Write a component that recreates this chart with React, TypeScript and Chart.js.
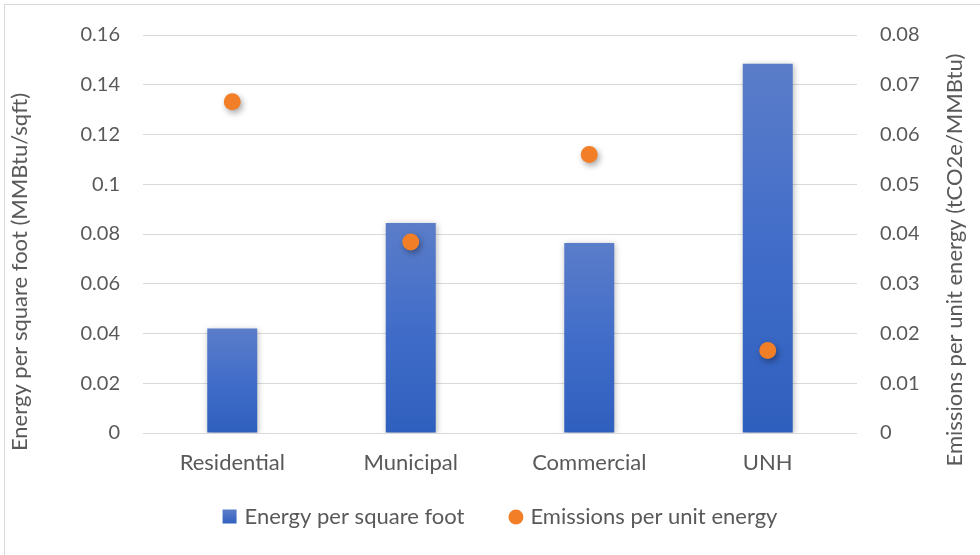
import React, { useEffect, useRef } from "react";
import { Chart, registerables } from "chart.js";

Chart.register(...registerables);

const categories = ["Residential", "Municipal", "Commercial", "UNH"];
const energyPerSqft = [0.042, 0.0844, 0.0764, 0.1484];
const emissionsPerEnergy = [0.0666, 0.0384, 0.056, 0.0166];
const leftTickLabels = ["0", "0.02", "0.04", "0.06", "0.08", "0.1", "0.12", "0.14", "0.16"];
const rightTickLabels = ["0", "0.01", "0.02", "0.03", "0.04", "0.05", "0.06", "0.07", "0.08"];
const leftTitle = "Energy per square foot (MMBtu/sqft)";
const rightTitle = "Emissions per unit energy (tCO2e/MMBtu)";
const seriesNames = ["Energy per square foot", "Emissions per unit energy"];

const FONT = "Lato, 'Open Sans', sans-serif";
const TEXT = "#595959";
const GRID = "#D9D9D9";
const BLUE_TOP = "#5B7DC9";
const BLUE_BOT = "#2F5FBE";
const ORANGE = "#F27E28";

const shadowPlugin = {
  id: "shadows",
  beforeDatasetDraw(chart: any, args: any) {
    const ctx = chart.ctx;
    ctx.save();
    if (args.index === 0) {
      ctx.shadowColor = "rgba(0,0,0,0.28)";
      ctx.shadowBlur = 6;
      ctx.shadowOffsetX = 1;
      ctx.shadowOffsetY = 1;
    } else {
      ctx.shadowColor = "rgba(0,0,0,0.35)";
      ctx.shadowBlur = 6;
      ctx.shadowOffsetX = 2;
      ctx.shadowOffsetY = 3;
    }
  },
  afterDatasetDraw(chart: any) {
    chart.ctx.restore();
  },
};

// Axis titles read bottom-to-top on both sides (Excel style)
const axisTitlePlugin = {
  id: "axisTitles",
  afterDraw(chart: any) {
    const { ctx, chartArea, width } = chart;
    const mid = (chartArea.top + chartArea.bottom) / 2;
    ctx.save();
    ctx.fillStyle = TEXT;
    ctx.textAlign = "center";
    ctx.textBaseline = "middle";
    ctx.font = `22px ${FONT}`;
    ctx.translate(20, mid + 38);
    ctx.rotate(-Math.PI / 2);
    ctx.fillText(leftTitle, 0, 0);
    ctx.restore();
    ctx.save();
    ctx.fillStyle = TEXT;
    ctx.textAlign = "center";
    ctx.textBaseline = "middle";
    ctx.font = `22px ${FONT}`;
    ctx.translate(width - 25, mid + 26);
    ctx.rotate(-Math.PI / 2);
    ctx.fillText(rightTitle, 0, 0);
    ctx.restore();
  },
};

// Excel-like legend: square for bars, circle for points, centred under the plot
const legendPlugin = {
  id: "excelLegend",
  afterDraw(chart: any) {
    const { ctx, chartArea } = chart;
    const ds = chart.data.datasets;
    const marker = 15;
    const textGap = 7;
    const itemGap = 44;
    const y = 517;
    ctx.save();
    ctx.font = `22px ${FONT}`;
    ctx.textBaseline = "middle";
    ctx.textAlign = "left";
    const widths = ds.map((d: any) => ctx.measureText(d.label).width);
    const total =
      widths.reduce((a: number, b: number) => a + b, 0) +
      ds.length * (marker + textGap) +
      (ds.length - 1) * itemGap;
    let x = (chartArea.left + chartArea.right) / 2 - total / 2;
    ds.forEach((d: any, i: number) => {
      if (i === 0) {
        const g = ctx.createLinearGradient(0, y - marker / 2, 0, y + marker / 2);
        g.addColorStop(0, BLUE_TOP);
        g.addColorStop(1, BLUE_BOT);
        ctx.fillStyle = g;
        ctx.fillRect(x, y - marker / 2, marker - 1, marker - 1);
      } else {
        ctx.fillStyle = ORANGE;
        ctx.beginPath();
        ctx.arc(x + marker / 2, y, marker / 2, 0, Math.PI * 2);
        ctx.fill();
      }
      x += marker + textGap;
      ctx.fillStyle = TEXT;
      ctx.fillText(d.label, x, y);
      x += widths[i] + itemGap;
    });
    ctx.restore();
  },
};

export default function App() {
  const ref = useRef<HTMLCanvasElement | null>(null);

  useEffect(() => {
    const canvas = ref.current;
    if (!canvas) return;

    const chart = new Chart(canvas, {
      type: "bar",
      data: {
        labels: categories,
        datasets: [
          {
            type: "bar",
            label: seriesNames[0],
            data: energyPerSqft,
            yAxisID: "y",
            order: 2,
            categoryPercentage: 1,
            barPercentage: 0.28,
            borderWidth: 0,
            backgroundColor: (c: any) => {
              const chart = c.chart;
              const { ctx, chartArea, scales } = chart;
              if (!chartArea || c.type !== "data") return BLUE_BOT;
              const yTop = scales.y.getPixelForValue(c.raw);
              const yBot = scales.y.getPixelForValue(0);
              const g = ctx.createLinearGradient(0, yTop, 0, yBot);
              g.addColorStop(0, BLUE_TOP);
              g.addColorStop(0.5, "#416DC9");
              g.addColorStop(1, BLUE_BOT);
              return g;
            },
          } as any,
          {
            type: "line",
            label: seriesNames[1],
            data: emissionsPerEnergy,
            yAxisID: "y1",
            order: 1,
            showLine: false,
            pointRadius: 8.5,
            pointHoverRadius: 8.5,
            pointBackgroundColor: ORANGE,
            pointBorderWidth: 0,
            borderColor: ORANGE,
            backgroundColor: ORANGE,
          } as any,
        ],
      },
      options: {
        responsive: false,
        animation: false,
        layout: { padding: { top: 31, bottom: 59, left: 0, right: 0 } },
        plugins: {
          tooltip: { enabled: false },
          legend: { display: false },
        },
        scales: {
          x: {
            grid: { display: false, drawTicks: false },
            border: { display: false },
            ticks: { color: TEXT, font: { family: FONT, size: 22 }, padding: 17 },
            afterFit: (s: any) => {
              s.height = 63;
            },
          },
          y: {
            position: "left",
            min: 0,
            max: 0.16,
            ticks: {
              stepSize: 0.02,
              color: TEXT,
              padding: 23,
              font: { family: FONT, size: 20 },
              callback: (_v: any, i: number) => leftTickLabels[i],
            },
            grid: { color: GRID, lineWidth: 1, drawTicks: false },
            border: { display: false },
            afterFit: (s: any) => {
              s.width = 143;
            },
          },
          y1: {
            position: "right",
            min: 0,
            max: 0.08,
            ticks: {
              stepSize: 0.01,
              color: TEXT,
              padding: 23,
              font: { family: FONT, size: 20 },
              callback: (_v: any, i: number) => rightTickLabels[i],
            },
            grid: { drawOnChartArea: false, drawTicks: false },
            border: { display: false },
            afterFit: (s: any) => {
              s.width = 123;
            },
          },
        },
      } as any,
      plugins: [shadowPlugin, axisTitlePlugin, legendPlugin],
    });
    return () => chart.destroy();
  }, []);

  return (
    <div
      style={{
        position: "fixed",
        left: 0,
        top: 0,
        width: 980,
        height: 555,
        overflow: "hidden",
        background: "#fff",
      }}
    >
      <div
        style={{
          position: "absolute",
          left: 4,
          top: 4,
          width: 1100,
          height: 700,
          borderTop: "1px solid #D9D9D9",
          borderLeft: "1px solid #D9D9D9",
        }}
      />
      <canvas
        ref={ref}
        width={980}
        height={555}
        style={{ position: "absolute", left: 0, top: 0, width: 980, height: 555 }}
      />
    </div>
  );
}
